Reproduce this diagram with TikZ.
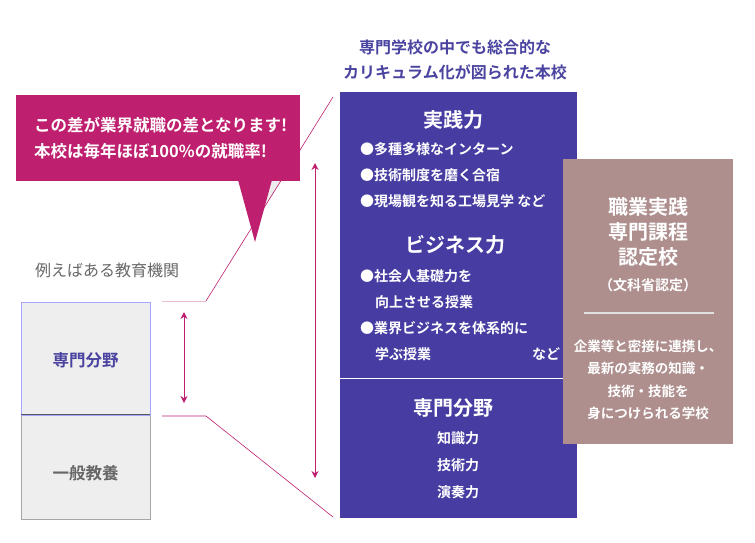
\documentclass[tikz,border=0pt]{standalone}
\usepackage{fontspec}
\setmainfont{Noto Sans CJK JP}[BoldFont={Noto Sans CJK JP Bold}]
\usetikzlibrary{arrows.meta}
\definecolor{callpink}{HTML}{BE1F6E}
\definecolor{schoolblue}{HTML}{463CA2}
\definecolor{titleblue}{HTML}{4A44A0}
\definecolor{certbrown}{HTML}{AE8F8E}
\definecolor{boxgray}{HTML}{EEEEEE}
\newcommand{\fsz}[1]{\fontsize{#1}{#1}\selectfont}

\begin{document}
\begin{tikzpicture}[x=1pt, y=-1pt,
		wtxt/.style={text=white, inner sep=0pt, font=\bfseries\fsz{14}},
		wbig/.style={text=white, inner sep=0pt, font=\bfseries\fsz{20}},
		gaparrow/.style={callpink, line width=1pt, {Stealth[length=7pt,width=7pt]}-{Stealth[length=7pt,width=7pt]}}]
		%%%%% START %%%%%
		
		\useasboundingbox (0, 0) rectangle (755, 542);
		
		% zoom lines
		\coordinate (uptop) at (333, 97);
		\coordinate (upknee) at (206, 301);
		\coordinate (upend) at (162, 301);
		\coordinate (lowtop) at (333, 517);
		\coordinate (lowknee) at (206, 416);
		\coordinate (lowend) at (162, 416);
		\fill[black!7] (272, 181) -- (281, 181) -- (265, 206) -- cycle;
		\draw[callpink, line width=0.6pt] (uptop) -- (upknee);
		\draw[callpink!30, line width=1pt] (upknee) -- (upend);
		\draw[callpink, line width=0.6pt] (lowend) -- (lowknee) -- (lowtop);
		
		% callout
		\fill[callpink] (16, 95) rectangle (300, 181);
		\fill[callpink] (238, 180) -- (255, 242) -- (272, 180) -- cycle;
		\node[text=white, inner sep=0pt, font=\bfseries\fsz{16.5}, align=left, anchor=west] (callout) at (34, 138)
			{この差が業界就職の差となります!\\[9pt]本校は毎年ほぼ100\%の就職率!};
		
		% arrows
		\coordinate (bigtop) at (315, 163);
		\coordinate (bigbot) at (315, 478);
		\coordinate (smalltop) at (184, 312);
		\coordinate (smallbot) at (184, 403);
		\draw[gaparrow] (bigtop) -- (bigbot);
		\draw[gaparrow] (smalltop) -- (smallbot);
		
		% some other school
		\node[text=black!60, inner sep=0pt, font=\fsz{16}, anchor=west] (otherlabel) at (35, 270) {例えばある教育機関};
		\node[draw=black!35, fill=boxgray, minimum width=129pt, minimum height=104pt, inner sep=0pt] (general) at (85.5, 467) {};
		\node[draw=blue!35, fill=boxgray, minimum width=129pt, minimum height=113pt, inner sep=0pt] (special) at (85.5, 358.5) {};
		\draw[black!65, line width=0.8pt] (general.north west) -- (general.north east);
		\node[text=titleblue, inner sep=0pt, font=\bfseries\fsz{16.5}] (speciallabel) at (85.5, 360) {専門分野};
		\node[text=black!60, inner sep=0pt, font=\bfseries\fsz{16.5}] (generallabel) at (85.5, 473) {一般教養};
		
		% our school
		\node[text=titleblue, inner sep=0pt, font=\bfseries\fsz{16}, align=center] (title) at (455, 60)
			{専門学校の中でも総合的な\\[9pt]カリキュラム化が図られた本校};
		\node[fill=schoolblue, minimum width=237pt, minimum height=426pt, inner sep=0pt] (school) at (458.5, 305) {};
		\draw[white, line width=1pt] (340, 378) -- (577, 378);
		
		\node[wbig] (practice) at (453, 120) {実践力};
		\node[wtxt, anchor=west] (p1) at (360, 149) {●多種多様なインターン};
		\node[wtxt, anchor=west] (p2) at (360, 175) {●技術制度を磨く合宿};
		\node[wtxt, anchor=west] (p3) at (360, 201) {●現場観を知る工場見学\ など};
		
		\node[wbig] (business) at (455, 245) {ビジネス力};
		\node[wtxt, anchor=west] (b1) at (360, 276) {●社会人基礎力を};
		\node[wtxt, anchor=west] (b2) at (375, 302) {向上させる授業};
		\node[wtxt, anchor=west] (b3) at (360, 328) {●業界ビジネスを体系的に};
		\node[wtxt, anchor=west] (b4) at (375, 354) {学ぶ授業};
		\node[wtxt, anchor=west] (b5) at (532, 354) {など};
		
		\node[wbig] (field) at (453, 408) {専門分野};
		\node[wtxt] (f1) at (458, 438) {知識力};
		\node[wtxt] (f2) at (458, 465) {技術力};
		\node[wtxt] (f3) at (458, 492) {演奏力};
		
		% certification
		\node[fill=certbrown, minimum width=170pt, minimum height=285pt, inner sep=0pt] (cert) at (648, 301.5) {};
		\node[text=white, inner sep=0pt, font=\bfseries\fsz{20}, align=center] (certname) at (648, 232)
			{職業実践\\[5pt]専門課程\\[5pt]認定校};
		\node[wtxt, font=\bfseries\fsz{14}] (certby) at (648, 285) {（文科省認定）};
		\draw[black!12, line width=1.2pt] (584, 313) -- (714, 313);
		\node[wtxt, font=\bfseries\fsz{13.5}, align=center] (certtext) at (648, 380)
			{企業等と密接に連携し、\\[9pt]最新の実務の知識・\\[9pt]技術・技能を\\[9pt]身につけられる学校};
		
		%%%%% END %%%%%
	\end{tikzpicture}
\end{document}
